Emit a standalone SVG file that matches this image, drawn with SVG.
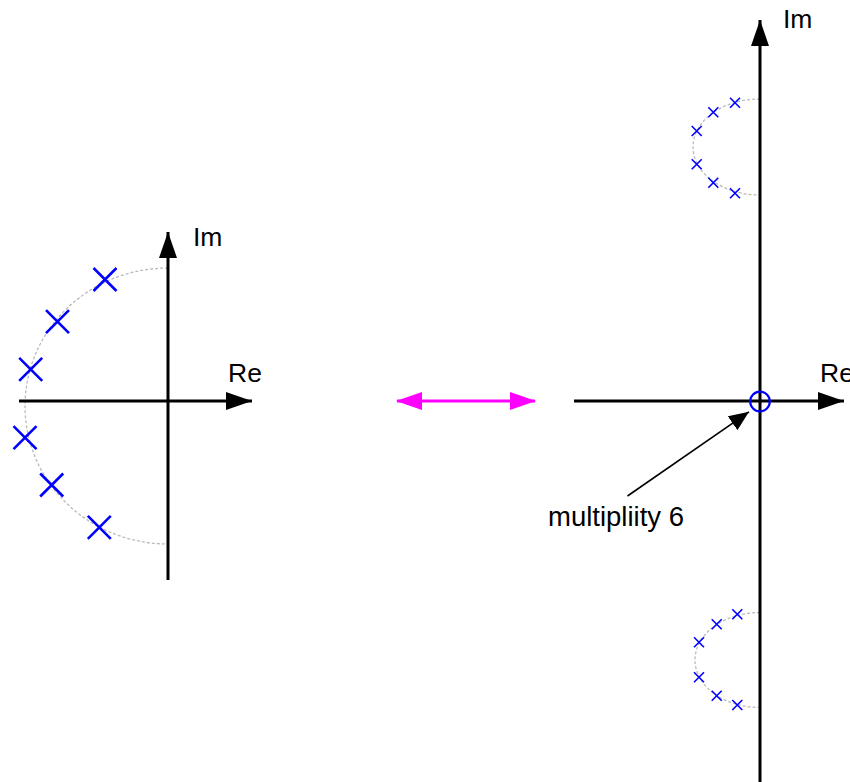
<svg xmlns="http://www.w3.org/2000/svg" width="850" height="782" viewBox="0 0 850 782">
<style>
.axis{stroke:#000;stroke-width:3;fill:none}
.arc{stroke:#bbb;stroke-width:1.3;stroke-dasharray:3,2;fill:none}
.xl{stroke:#00f;stroke-width:2.6;fill:none}
.xs{stroke:#00f;stroke-width:1.6;fill:none}
.lbl{font-family:"Liberation Sans",Arial,sans-serif;font-size:26.5px;fill:#000}
.ann{font-family:"Liberation Sans",Arial,sans-serif;font-size:27.5px;fill:#000}
</style>
<defs>
<marker id="ah" markerWidth="26" markerHeight="18" refX="26" refY="9" orient="auto" markerUnits="userSpaceOnUse">
<path d="M0,0 L26,9 L0,18 Z" fill="#000"/>
</marker>
<marker id="ahs" markerWidth="20" markerHeight="17" refX="20" refY="8.5" orient="auto" markerUnits="userSpaceOnUse">
<path d="M0,0 L20,8.5 L0,17 Z" fill="#000"/>
</marker>
<marker id="am" markerWidth="26" markerHeight="18" refX="25" refY="9" orient="auto-start-reverse" markerUnits="userSpaceOnUse">
<path d="M0,0 L26,9 L0,18 Z" fill="#f0f"/>
</marker>
<path id="cl" d="M-11.5,-11.5 L11.5,11.5 M-11.5,11.5 L11.5,-11.5"/>
<path id="cs" d="M-5,-5 L5,5 M-5,5 L5,-5"/>
</defs>

<g id="left-plot">
<path class="arc" d="M168,268 A143,138 0 0 0 168,544"/>
<line class="axis" x1="168" y1="580" x2="168" y2="232" marker-end="url(#ah)"/>
<line class="axis" x1="19" y1="401" x2="252" y2="401" marker-end="url(#ah)"/>
<text class="lbl" x="193" y="246">Im</text>
<text class="lbl" x="228" y="382">Re</text>
<g class="xl">
<use href="#cl" x="105" y="279.5"/>
<use href="#cl" x="57.5" y="321.7"/>
<use href="#cl" x="30.7" y="369.3"/>
<use href="#cl" x="25" y="437.7"/>
<use href="#cl" x="51.7" y="485"/>
<use href="#cl" x="99.3" y="527.3"/>
</g>
</g>

<g id="transform-arrow">
<line x1="397" y1="401" x2="535" y2="401" stroke="#f0f" stroke-width="3" marker-start="url(#am)" marker-end="url(#am)"/>
</g>

<g id="right-plot">
<path class="arc" d="M760,99 A67,48 0 0 0 760,195"/>
<path class="arc" d="M760,612.5 A65,47.5 0 0 0 760,707.5"/>
<line class="axis" x1="760" y1="782" x2="760" y2="20" marker-end="url(#ah)"/>
<line class="axis" x1="574" y1="401" x2="844" y2="401" marker-end="url(#ah)"/>
<text class="lbl" x="783" y="28">Im</text>
<text class="lbl" x="820" y="382">Re</text>
<circle cx="760" cy="401.5" r="9.8" fill="none" stroke="#00f" stroke-width="2.2"/>
<g class="xs">
<use href="#cs" x="735" y="102.7"/>
<use href="#cs" x="713.3" y="112.3"/>
<use href="#cs" x="696.7" y="131"/>
<use href="#cs" x="696.7" y="164.3"/>
<use href="#cs" x="713.3" y="182.7"/>
<use href="#cs" x="735" y="193.3"/>
<use href="#cs" x="737.3" y="614.3"/>
<use href="#cs" x="716.7" y="624.3"/>
<use href="#cs" x="699" y="642.3"/>
<use href="#cs" x="699" y="677.3"/>
<use href="#cs" x="716.7" y="695.7"/>
<use href="#cs" x="737.3" y="705"/>
</g>
</g>

<g id="annotation">
<line x1="627.5" y1="496" x2="749" y2="411.8" stroke="#000" stroke-width="1.6" marker-end="url(#ahs)"/>
<text class="ann" x="548" y="526">multipliity 6</text>
</g>
</svg>
